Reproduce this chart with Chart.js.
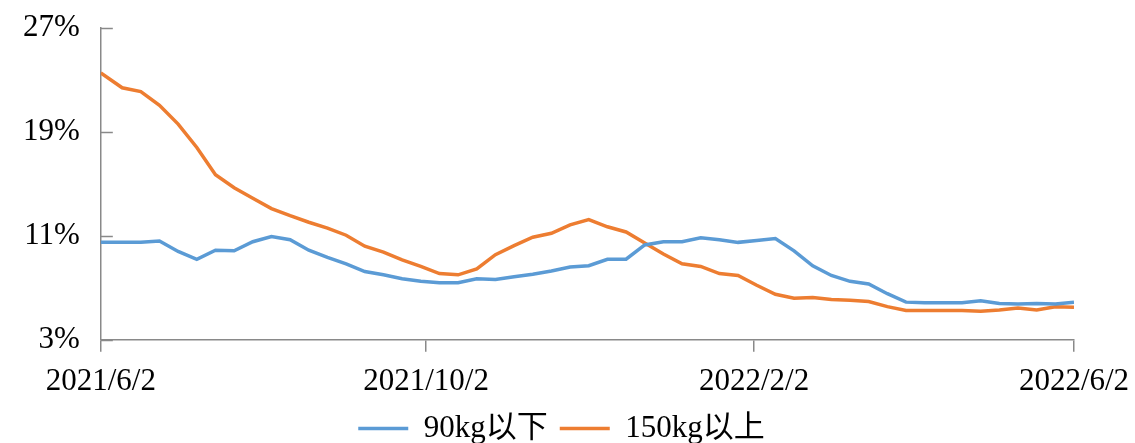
<!DOCTYPE html>
<html>
<head>
<meta charset="utf-8">
<script src="https://cdn.jsdelivr.net/npm/chart.js@4.4.1/dist/chart.umd.min.js"></script>
<style>
  html, body { margin: 0; padding: 0; background: #fff; }
  #wrap { width: 1135px; height: 443px; }
</style>
</head>
<body>
<div id="wrap"><canvas id="c" width="1135" height="443"></canvas></div>
<script>
// ---- data ----
const startDate = '2021-06-02';
const dates = [
  '2021-06-02','2021-06-10','2021-06-17','2021-06-24','2021-07-01','2021-07-08','2021-07-15','2021-07-22','2021-07-29',
  '2021-08-05','2021-08-12','2021-08-19','2021-08-26','2021-09-02','2021-09-09','2021-09-16','2021-09-23','2021-09-30',
  '2021-10-07','2021-10-14','2021-10-21','2021-10-28','2021-11-04','2021-11-11','2021-11-18','2021-11-25',
  '2021-12-02','2021-12-09','2021-12-16','2021-12-23','2021-12-30','2022-01-06','2022-01-13','2022-01-20','2022-01-27',
  '2022-02-03','2022-02-10','2022-02-17','2022-02-24','2022-03-03','2022-03-10','2022-03-17','2022-03-24','2022-03-31',
  '2022-04-07','2022-04-14','2022-04-21','2022-04-28','2022-05-05','2022-05-12','2022-05-19','2022-05-26','2022-06-02'
];
const seriesNames = ['90kg以下', '150kg以上'];
const below90 = [10.5,10.5,10.5,10.6,9.8,9.2,9.9,9.85,10.55,10.95,10.7,9.9,9.35,8.85,8.25,8.0,7.7,7.5,7.4,7.4,
  7.7,7.65,7.85,8.05,8.3,8.6,8.7,9.2,9.2,10.3,10.55,10.55,10.85,10.7,10.5,10.65,10.8,9.85,8.7,7.95,7.5,7.3,
  6.55,5.9,5.85,5.85,5.85,6.0,5.8,5.75,5.8,5.75,5.9];
const above150 = [23.55,22.4,22.1,21.05,19.6,17.8,15.7,14.7,13.9,13.1,12.55,12.05,11.6,11.05,10.2,9.75,9.15,8.65,
  8.1,8.0,8.45,9.55,10.25,10.9,11.2,11.85,12.25,11.7,11.3,10.45,9.6,8.85,8.65,8.1,7.95,7.2,6.5,6.2,6.25,6.1,6.05,
  5.95,5.55,5.25,5.25,5.25,5.25,5.2,5.3,5.45,5.3,5.55,5.5];
const xTickDates = ['2021-06-02','2021-10-02','2022-02-02','2022-06-02'];
const xTickLabels = ['2021/6/2','2021/10/2','2022/2/2','2022/6/2'];
const yTickValues = [3, 11, 19, 27];

// ---- helpers ----
const dayNum = s => Math.round((Date.parse(s + 'T00:00:00Z') - Date.parse(startDate + 'T00:00:00Z')) / 86400000);
const xs = dates.map(dayNum);
const xTicks = xTickDates.map(dayNum);

const FONT = "'Liberation Serif','Times New Roman','Noto Sans CJK SC',serif";
const FSIZE = 31;
const AXIS = '#898989';
const BLUE = '#5B9BD5';
const ORANGE = '#ED7D31';

const innerYTicks = {
  id: 'innerYTicks',
  beforeDatasetsDraw(chart) {
    const y = chart.scales.y, ctx = chart.ctx;
    ctx.save();
    ctx.strokeStyle = AXIS;
    ctx.lineWidth = 1.5;
    y.ticks.forEach(t => {
      const py = Math.round(y.getPixelForValue(t.value)) + 0.5;
      ctx.beginPath();
      ctx.moveTo(y.right, py);
      ctx.lineTo(y.right + 12, py);
      ctx.stroke();
    });
    ctx.restore();
  }
};

new Chart(document.getElementById('c'), {
  type: 'line',
  data: {
    datasets: [
      { label: seriesNames[0], data: xs.map((x, i) => ({x, y: below90[i]})),
        borderColor: BLUE, backgroundColor: BLUE, borderWidth: 3.5, pointRadius: 0, tension: 0 },
      { label: seriesNames[1], data: xs.map((x, i) => ({x, y: above150[i]})),
        borderColor: ORANGE, backgroundColor: ORANGE, borderWidth: 3.5, pointRadius: 0, tension: 0 }
    ]
  },
  options: {
    responsive: false,
    devicePixelRatio: 1,
    animation: false,
    events: [],
    layout: { padding: { left: 2, right: 14, top: 0, bottom: -11 } },
    plugins: {
      tooltip: { enabled: false },
      legend: {
        position: 'bottom',
        labels: {
          usePointStyle: true,
          pointStyle: 'line',
          pointStyleWidth: 50,
          padding: 12,
          color: '#000',
          font: { family: FONT, size: FSIZE }
        }
      }
    },
    scales: {
      x: {
        type: 'linear',
        min: xTicks[0],
        max: xTicks[xTicks.length - 1],
        afterBuildTicks: s => { s.ticks = xTicks.map(v => ({ value: v })); },
        afterFit: s => { s.height -= 10; s.paddingRight = 61; },
        grid: { display: true, drawOnChartArea: false, drawTicks: true, tickLength: 12, color: AXIS, lineWidth: 1.5 },
        border: { display: true, color: AXIS, width: 1.5 },
        ticks: {
          autoSkip: false, maxRotation: 0, padding: 11, color: '#000',
          font: { family: FONT, size: FSIZE },
          callback: v => xTickLabels[xTicks.indexOf(v)] ?? ''
        }
      },
      y: {
        min: 3, max: 27,
        afterBuildTicks: s => { s.ticks = yTickValues.map(v => ({ value: v })); },
        afterFit: s => { s.paddingTop = 28; },
        grid: { display: false, drawTicks: false },
        border: { display: true, color: AXIS, width: 1.5 },
        ticks: {
          padding: 21, color: '#000',
          font: { family: FONT, size: FSIZE },
          callback: v => v + '%'
        }
      }
    }
  },
  plugins: [innerYTicks]
});
</script>
</body>
</html>
